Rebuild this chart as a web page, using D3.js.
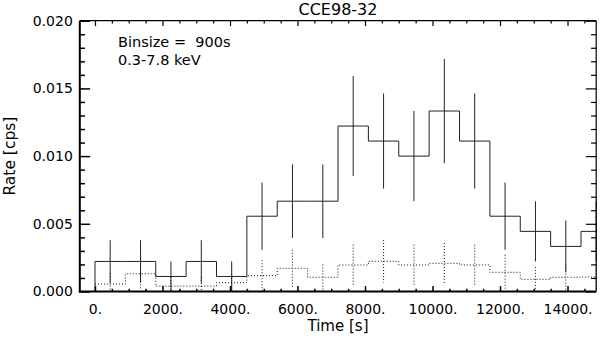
<!DOCTYPE html>
<html>
<head>
<meta charset="utf-8">
<script src="https://cdn.jsdelivr.net/npm/d3@7"></script>
<style>
  html, body { margin: 0; padding: 0; background: #fff; }
  svg { display: block; }
  text { font-family: "DejaVu Sans", Verdana, sans-serif; fill: #000; }
</style>
</head>
<body>
<svg id="chart" width="603" height="339"></svg>
<script>
// ---- data ----
const titleText = "CCE98-32";
const noteLines = ["Binsize =  900s", "0.3-7.8 keV"];
const xLabel = "Time [s]";
const yLabel = "Rate [cps]";
const binWidth = 900;
const binCenters = [450, 1350, 2250, 3150, 4050, 4950, 5850, 6750, 7650, 8550, 9450, 10350, 11250, 12150, 13050, 13950, 14850];
const srcRate = [0.00222, 0.00222, 0.00111, 0.00222, 0.00111, 0.00556, 0.00667, 0.00667, 0.01222, 0.01111, 0.01000, 0.01333, 0.01111, 0.00556, 0.00444, 0.00333, 0.00444];
const srcErr  = [0.00157, 0.00157, 0.00111, 0.00157, 0.00111, 0.00248, 0.00272, 0.00272, 0.00369, 0.00351, 0.00333, 0.00385, 0.00351, 0.00248, 0.00222, 0.00192, 0.00222];
const bkgRate = [0.00055, 0.00131, 0.00040, 0.00040, 0.00065, 0.00117, 0.00171, 0.00105, 0.00196, 0.00223, 0.00196, 0.00208, 0.00196, 0.00142, 0.00090, 0.00105, 0.00107];
const bkgErr  = [0.00078, 0.00121, 0.00067, 0.00067, 0.00085, 0.00114, 0.00138, 0.00094, 0.00150, 0.00157, 0.00150, 0.00150, 0.00150, 0.00130, 0.00092, 0.00094, 0.00094];
const xDomain = [-450, 14850];
const yDomain = [0, 0.020];
const xMajorTicks = [0, 2000, 4000, 6000, 8000, 10000, 12000, 14000];
const xMinorTicks = [500, 1000, 1500, 2500, 3000, 3500, 4500, 5000, 5500, 6500, 7000, 7500, 8500, 9000, 9500, 10500, 11000, 11500, 12500, 13000, 13500, 14500];
const yMajorTicks = [0, 0.005, 0.010, 0.015, 0.020];
const yMinorTicks = [0.001, 0.002, 0.003, 0.004, 0.006, 0.007, 0.008, 0.009, 0.011, 0.012, 0.013, 0.014, 0.016, 0.017, 0.018, 0.019];

// ---- layout ----
const L = 79.8, R = 596.2, T = 20.7, B = 291.5;
const W = R - L, H = B - T;
const svg = d3.select("#chart");
const x = d3.scaleLinear().domain(xDomain).range([L, R]);
const y = d3.scaleLinear().domain(yDomain).range([B, T]);

svg.append("defs").append("clipPath").attr("id", "clip")
  .append("rect").attr("x", L).attr("y", T).attr("width", W + 1).attr("height", H);

const plot = svg.append("g").attr("clip-path", "url(#clip)");

function stepPath(rates, startFromZero) {
  const p = d3.path();
  const x0 = x(binCenters[0] - binWidth / 2);
  if (startFromZero) { p.moveTo(x0, y(0)); p.lineTo(x0, y(rates[0])); }
  else p.moveTo(x0, y(rates[0]));
  rates.forEach((r, i) => {
    const xs = x(binCenters[i] - binWidth / 2), xe = x(binCenters[i] + binWidth / 2);
    p.lineTo(xs, y(r));
    p.lineTo(xe, y(r));
  });
  return p.toString();
}

// background (dotted)
plot.append("path").attr("d", stepPath(bkgRate, false))
  .attr("fill", "none").attr("stroke", "#111").attr("stroke-width", 1)
  .attr("stroke-dasharray", "1,2");
plot.selectAll("line.bkgerr").data(binCenters).join("line").attr("class", "bkgerr")
  .attr("x1", d => x(d)).attr("x2", d => x(d))
  .attr("y1", (d, i) => y(bkgRate[i] + bkgErr[i])).attr("y2", (d, i) => y(bkgRate[i] - bkgErr[i]))
  .attr("stroke", "#111").attr("stroke-width", 1).attr("stroke-dasharray", "1,2");

// source (solid)
plot.append("path").attr("d", stepPath(srcRate, true))
  .attr("fill", "none").attr("stroke", "#222").attr("stroke-width", 1);
plot.selectAll("line.srcerr").data(binCenters).join("line").attr("class", "srcerr")
  .attr("x1", d => x(d)).attr("x2", d => x(d))
  .attr("y1", (d, i) => y(srcRate[i] + srcErr[i])).attr("y2", (d, i) => y(srcRate[i] - srcErr[i]))
  .attr("stroke", "#222").attr("stroke-width", 1);

// ---- axes ----
const xtl = 0.02 * H, ytl = 0.02 * W;
function styleAxis(g, w) {
  g.select(".domain").remove();
  g.selectAll(".tick line").attr("stroke", "#000").attr("stroke-width", w);
  g.selectAll("text").style("font-size", "14px").attr("fill", "#000");
}
// bottom
svg.append("g").attr("transform", `translate(0,${B})`)
  .call(d3.axisBottom(x).tickValues(xMajorTicks).tickSize(-xtl).tickPadding(13).tickFormat(d => d + "."))
  .call(g => styleAxis(g, 1.5));
svg.append("g").attr("transform", `translate(0,${B})`)
  .call(d3.axisBottom(x).tickValues(xMinorTicks).tickSize(-xtl / 2).tickFormat(""))
  .call(g => styleAxis(g, 1.5));
// top
svg.append("g").attr("transform", `translate(0,${T})`)
  .call(d3.axisTop(x).tickValues(xMajorTicks).tickSize(-xtl).tickFormat(""))
  .call(g => styleAxis(g, 1.2));
svg.append("g").attr("transform", `translate(0,${T})`)
  .call(d3.axisTop(x).tickValues(xMinorTicks).tickSize(-xtl / 2).tickFormat(""))
  .call(g => styleAxis(g, 1.2));
// left
svg.append("g").attr("transform", `translate(${L},0)`)
  .call(d3.axisLeft(y).tickValues(yMajorTicks).tickSize(-ytl).tickPadding(7).tickFormat(d3.format(".3f")))
  .call(g => styleAxis(g, 1.5));
svg.append("g").attr("transform", `translate(${L},0)`)
  .call(d3.axisLeft(y).tickValues(yMinorTicks).tickSize(-ytl / 2).tickFormat(""))
  .call(g => styleAxis(g, 1.5));
// right
svg.append("g").attr("transform", `translate(${R},0)`)
  .call(d3.axisRight(y).tickValues(yMajorTicks).tickSize(-ytl).tickFormat(""))
  .call(g => styleAxis(g, 1.2));
svg.append("g").attr("transform", `translate(${R},0)`)
  .call(d3.axisRight(y).tickValues(yMinorTicks).tickSize(-ytl / 2).tickFormat(""))
  .call(g => styleAxis(g, 1.2));

// frame
svg.append("line").attr("x1", L).attr("x2", R).attr("y1", T).attr("y2", T).attr("stroke", "#000").attr("stroke-width", 1.2);
svg.append("line").attr("x1", R).attr("x2", R).attr("y1", T).attr("y2", B).attr("stroke", "#000").attr("stroke-width", 1.2);
svg.append("line").attr("x1", L - 1).attr("x2", R).attr("y1", B).attr("y2", B).attr("stroke", "#000").attr("stroke-width", 2);
svg.append("line").attr("x1", L).attr("x2", L).attr("y1", T).attr("y2", B + 1).attr("stroke", "#000").attr("stroke-width", 2);

// ---- texts ----
svg.append("text").attr("x", (L + R) / 2).attr("y", 15).attr("text-anchor", "middle")
  .style("font-size", "16px").text(titleText);
noteLines.forEach((t, i) => {
  svg.append("text").attr("x", 118).attr("y", 47 + i * 18).style("font-size", "14.5px")
    .attr("xml:space", "preserve").style("white-space", "pre").text(t);
});
svg.append("text").attr("x", (L + R) / 2).attr("y", 331).attr("text-anchor", "middle")
  .style("font-size", "15px").text(xLabel);
svg.append("text").attr("transform", `translate(15,${(T + B) / 2}) rotate(-90)`).attr("text-anchor", "middle")
  .style("font-size", "15.5px").text(yLabel);
</script>
</body>
</html>
